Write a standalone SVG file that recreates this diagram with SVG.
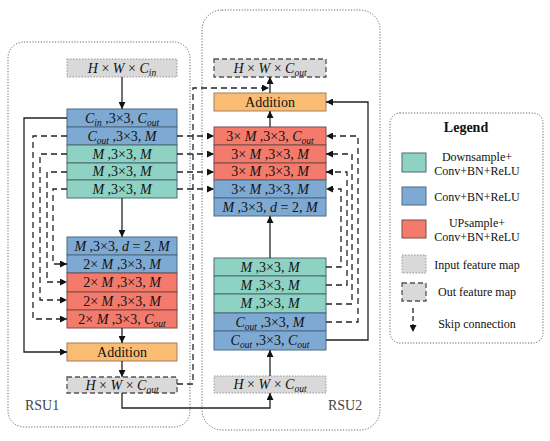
<svg xmlns="http://www.w3.org/2000/svg" width="550" height="441" viewBox="0 0 550 441">
<defs>
<marker id="ah" viewBox="0 0 10 10" refX="10" refY="5" markerWidth="9" markerHeight="7" markerUnits="userSpaceOnUse" orient="auto">
<path d="M0,0 L10,5 L0,10 z" fill="#111"/>
</marker>
</defs>
<style>
.frame{fill:none;stroke:#666;stroke-width:1;stroke-dasharray:1.2,1.6}
.g{fill:#8ed2c3;stroke:#4d6b74;stroke-width:1}
.b{fill:#7ea9d2;stroke:#4d6b84;stroke-width:1}
.r{fill:#f47a6c;stroke:#7a4a48;stroke-width:1}
.o{fill:#f9bc72;stroke:#a08060;stroke-width:1}
.inp{fill:#d9d9d9;stroke:#999;stroke-width:1;stroke-dasharray:1.5,1.5}
.out{fill:#d9d9d9;stroke:#555;stroke-width:1.3;stroke-dasharray:5,3}
text{font-family:'Liberation Serif','Times New Roman',serif}
.t{font-size:14px;fill:#111;text-anchor:middle}
.i{font-style:italic}
.s{font-size:9.5px;font-style:italic}
.lt{font-size:12px;fill:#111;text-anchor:middle}
.lbl{font-size:14px;fill:#444}
.sl{fill:none;stroke:#222;stroke-width:1.3}
.dl{fill:none;stroke:#222;stroke-width:1.3;stroke-dasharray:6,4}
</style>

<g id="rsu1-frame"><rect class="frame" x="8" y="42" width="182" height="385" rx="16"/><text class="lbl" x="25" y="410" font-family="Liberation Serif, serif">RSU1</text></g>
<g id="rsu2-frame"><rect class="frame" x="202" y="10" width="178" height="420" rx="20"/><text class="lbl" x="328" y="410" font-family="Liberation Serif, serif">RSU2</text></g>

<g font-family="Liberation Serif, serif">
<g id="rsu1-input"><rect class="inp" x="67" y="59" width="110" height="18"/><text class="t" x="122" y="73"><tspan class="i">H</tspan> × <tspan class="i">W</tspan> × <tspan class="i">C</tspan><tspan class="s" dy="3">in</tspan></text></g>
<g id="rsu1-enc">
<rect class="b" x="67" y="109" width="110" height="18"/><text class="t" x="122" y="123"><tspan class="i">C</tspan><tspan class="s" dy="3">in</tspan><tspan dy="-3"> ,3×3, </tspan><tspan class="i">C</tspan><tspan class="s" dy="3">out</tspan></text>
<rect class="b" x="67" y="127" width="110" height="18"/><text class="t" x="122" y="141"><tspan class="i">C</tspan><tspan class="s" dy="3">out</tspan><tspan dy="-3"> ,3×3, </tspan><tspan class="i">M</tspan></text>
<rect class="g" x="67" y="145" width="110" height="18"/><text class="t" x="122" y="159"><tspan class="i">M</tspan> ,3×3, <tspan class="i">M</tspan></text>
<rect class="g" x="67" y="163" width="110" height="17"/><text class="t" x="122" y="176"><tspan class="i">M</tspan> ,3×3, <tspan class="i">M</tspan></text>
<rect class="g" x="67" y="180" width="110" height="18"/><text class="t" x="122" y="194"><tspan class="i">M</tspan> ,3×3, <tspan class="i">M</tspan></text>
</g>
<g id="rsu1-dec">
<rect class="b" x="67" y="237" width="110" height="18"/><text class="t" x="122" y="251"><tspan class="i">M</tspan> ,3×3, <tspan class="i">d</tspan> = 2, <tspan class="i">M</tspan></text>
<rect class="b" x="67" y="255" width="110" height="18"/><text class="t" x="122" y="269">2× <tspan class="i">M</tspan> ,3×3, <tspan class="i">M</tspan></text>
<rect class="r" x="67" y="273" width="110" height="19"/><text class="t" x="122" y="287">2× <tspan class="i">M</tspan> ,3×3, <tspan class="i">M</tspan></text>
<rect class="r" x="67" y="292" width="110" height="18"/><text class="t" x="122" y="306">2× <tspan class="i">M</tspan> ,3×3, <tspan class="i">M</tspan></text>
<rect class="r" x="67" y="310" width="110" height="18"/><text class="t" x="122" y="324">2× <tspan class="i">M</tspan> ,3×3, <tspan class="i">C</tspan><tspan class="s" dy="3">out</tspan></text>
</g>
<g id="rsu1-add"><rect class="o" x="67" y="343" width="110" height="18"/><text class="t" x="122" y="357">Addition</text></g>
<g id="rsu1-output"><rect class="out" x="67" y="377" width="110" height="16"/><text class="t" x="122" y="390"><tspan class="i">H</tspan> × <tspan class="i">W</tspan> × <tspan class="i">C</tspan><tspan class="s" dy="3">out</tspan></text></g>

<g id="rsu2-output"><rect class="out" x="214" y="59" width="112" height="18"/><text class="t" x="270" y="73"><tspan class="i">H</tspan> × <tspan class="i">W</tspan> × <tspan class="i">C</tspan><tspan class="s" dy="3">out</tspan></text></g>
<g id="rsu2-add"><rect class="o" x="214" y="93" width="112" height="18"/><text class="t" x="270" y="107">Addition</text></g>
<g id="rsu2-dec">
<rect class="r" x="214" y="127" width="112" height="18"/><text class="t" x="270" y="141">3× <tspan class="i">M</tspan> ,3×3, <tspan class="i">C</tspan><tspan class="s" dy="3">out</tspan></text>
<rect class="r" x="214" y="145" width="112" height="18"/><text class="t" x="270" y="159">3× <tspan class="i">M</tspan> ,3×3, <tspan class="i">M</tspan></text>
<rect class="r" x="214" y="163" width="112" height="17"/><text class="t" x="270" y="176">3× <tspan class="i">M</tspan> ,3×3, <tspan class="i">M</tspan></text>
<rect class="b" x="214" y="180" width="112" height="18"/><text class="t" x="270" y="194">3× <tspan class="i">M</tspan> ,3×3, <tspan class="i">M</tspan></text>
<rect class="b" x="214" y="198" width="112" height="18"/><text class="t" x="270" y="212"><tspan class="i">M</tspan> ,3×3, <tspan class="i">d</tspan> = 2, <tspan class="i">M</tspan></text>
</g>
<g id="rsu2-enc">
<rect class="g" x="214" y="258" width="112" height="18"/><text class="t" x="270" y="272"><tspan class="i">M</tspan> ,3×3, <tspan class="i">M</tspan></text>
<rect class="g" x="214" y="276" width="112" height="18"/><text class="t" x="270" y="290"><tspan class="i">M</tspan> ,3×3, <tspan class="i">M</tspan></text>
<rect class="g" x="214" y="294" width="112" height="19"/><text class="t" x="270" y="308"><tspan class="i">M</tspan> ,3×3, <tspan class="i">M</tspan></text>
<rect class="b" x="214" y="313" width="112" height="18"/><text class="t" x="270" y="327"><tspan class="i">C</tspan><tspan class="s" dy="3">out</tspan><tspan dy="-3"> ,3×3, </tspan><tspan class="i">M</tspan></text>
<rect class="b" x="214" y="331" width="112" height="19"/><text class="t" x="270" y="345"><tspan class="i">C</tspan><tspan class="s" dy="3">out</tspan><tspan dy="-3"> ,3×3, </tspan><tspan class="i">C</tspan><tspan class="s" dy="3">out</tspan></text>
</g>
<g id="rsu2-input"><rect class="inp" x="214" y="376" width="112" height="17"/><text class="t" x="270" y="389"><tspan class="i">H</tspan> × <tspan class="i">W</tspan> × <tspan class="i">C</tspan><tspan class="s" dy="3">out</tspan></text></g>
</g>

<g id="connectors">
<path class="sl" d="M122,77 V109" marker-end="url(#ah)"/>
<path class="sl" d="M122,198 V237" marker-end="url(#ah)"/>
<path class="sl" d="M122,328 V343" marker-end="url(#ah)"/>
<path class="sl" d="M122,361 V377" marker-end="url(#ah)"/>
<path class="sl" d="M67,118 H24 V352 H67" marker-end="url(#ah)"/>
<path class="dl" d="M67,136 H33 V319 H67" marker-end="url(#ah)"/>
<path class="dl" d="M67,154 H40 V300 H67" marker-end="url(#ah)"/>
<path class="dl" d="M67,172 H47 V282 H67" marker-end="url(#ah)"/>
<path class="dl" d="M67,189 H53 V264 H67" marker-end="url(#ah)"/>
<path class="dl" d="M177,136 H214" marker-end="url(#ah)"/>
<path class="dl" d="M177,154 H214" marker-end="url(#ah)"/>
<path class="dl" d="M177,172 H214" marker-end="url(#ah)"/>
<path class="dl" d="M177,189 H214" marker-end="url(#ah)"/>
<path class="dl" d="M177,384 H193 V88 H269" marker-end="url(#ah)"/>
<path class="sl" d="M122,393 V408 H270 V393" marker-end="url(#ah)"/>
<path class="sl" d="M270,376 V350" marker-end="url(#ah)"/>
<path class="sl" d="M270,258 V216" marker-end="url(#ah)"/>
<path class="sl" d="M270,127 V111" marker-end="url(#ah)"/>
<path class="sl" d="M270,93 V77" marker-end="url(#ah)"/>
<path class="sl" d="M326,340 H368 V102 H326" marker-end="url(#ah)"/>
<path class="dl" d="M326,322 H358 V136 H326" marker-end="url(#ah)"/>
<path class="dl" d="M326,304 H352 V154 H326" marker-end="url(#ah)"/>
<path class="dl" d="M326,285 H347 V172 H326" marker-end="url(#ah)"/>
<path class="dl" d="M326,267 H341 V189 H326" marker-end="url(#ah)"/>
</g>

<g id="legend" font-family="Liberation Serif, serif">
<rect class="frame" x="390" y="113" width="153" height="230" rx="10"/>
<text x="466" y="132" font-size="14" font-weight="bold" text-anchor="middle" fill="#111">Legend</text>
<rect class="g" x="402" y="153" width="24" height="19"/>
<text class="lt" x="477" y="161">Downsample+</text><text class="lt" x="477" y="175">Conv+BN+ReLU</text>
<rect class="b" x="402" y="187" width="24" height="18"/>
<text class="lt" x="477" y="201">Conv+BN+ReLU</text>
<rect class="r" x="402" y="220" width="24" height="18"/>
<text class="lt" x="477" y="227">UPsample+</text><text class="lt" x="477" y="241">Conv+BN+ReLU</text>
<rect class="inp" x="402" y="255" width="24" height="18"/>
<text class="lt" x="477" y="269">Input feature map</text>
<rect class="out" x="402" y="283" width="24" height="18"/>
<text class="lt" x="477" y="296">Out feature map</text>
<path class="dl" d="M413,308 V332" style="stroke-dasharray:5,3" marker-end="url(#ah)"/>
<text class="lt" x="477" y="328">Skip connection</text>
</g>
</svg>
